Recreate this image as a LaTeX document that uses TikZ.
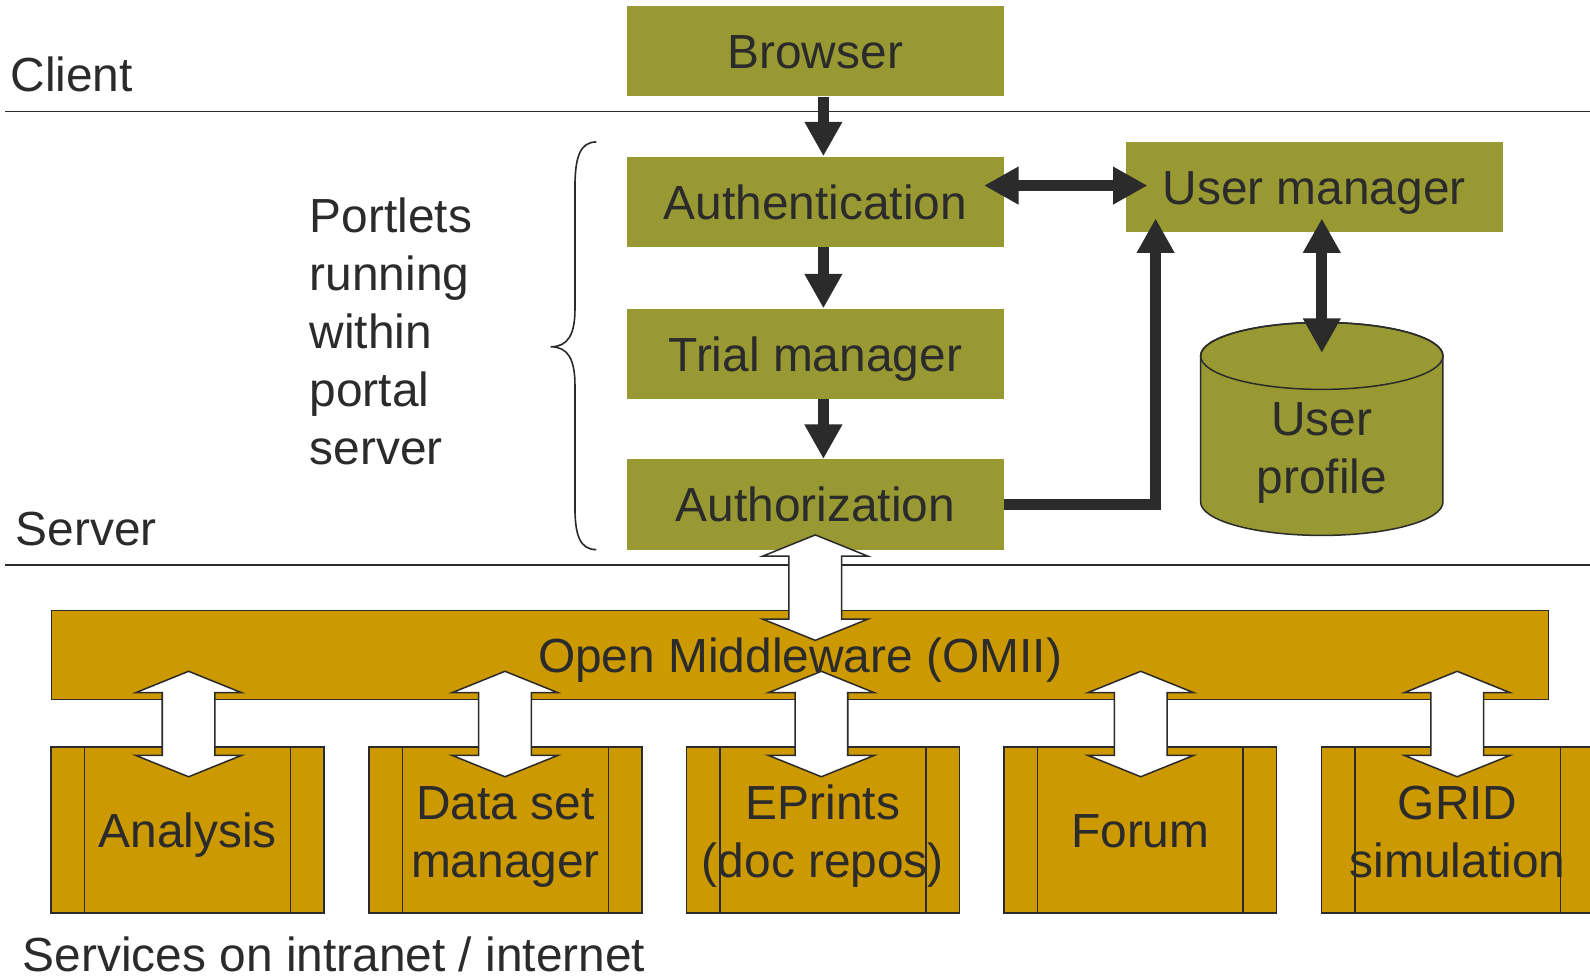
\documentclass[tikz,border=0pt]{standalone}
\usepackage{fontspec}
\setmainfont{Liberation Sans}
\usetikzlibrary{arrows.meta,calc}
\definecolor{olivebox}{RGB}{153,153,51}
\definecolor{goldbox}{RGB}{204,153,0}
\definecolor{ink}{RGB}{43,43,43}
\newcommand\svcstrut{\rule{0pt}{23pt}}
\newcommand\svcdepth{\rule[-5pt]{0pt}{5pt}}
\begin{document}
\begin{tikzpicture}[x=0.5pt,y=-0.5pt,
  every node/.style={text=ink,font=\fontsize{23.6}{28.5}\selectfont},
  obox/.style={fill=olivebox,minimum width=186pt,minimum height=44.5pt,inner sep=0pt,text height=17pt,text depth=0pt},
  ombox/.style={fill=goldbox,draw=ink,line width=0.75pt,minimum width=738pt,minimum height=44pt,inner sep=0pt},
  svcbox/.style={fill=goldbox,draw=ink,line width=0.75pt,minimum width=134.5pt,minimum height=82pt,inner sep=0pt,
    path picture={\draw[ink,line width=0.75pt]
      ([xshift=16.5pt]path picture bounding box.north west) -- ([xshift=16.5pt]path picture bounding box.south west)
      ([xshift=-16.5pt]path picture bounding box.north east) -- ([xshift=-16.5pt]path picture bounding box.south east);}},
  svcone/.style={svcbox,text height=17pt,text depth=0pt},
  svctwo/.style={svcbox,align=center},
  lbl/.style={inner sep=0pt,anchor=base west},
  sep/.style={draw=ink,line width=0.75pt},
  blk/.style={draw=ink,line width=5.4pt,-{Triangle[width=17.5pt,length=17pt]}},
  blkd/.style={draw=ink,line width=5.4pt,{Triangle[width=17.5pt,length=17pt]}-{Triangle[width=17.5pt,length=17pt]}},
  wdarrow/.pic={\filldraw[fill=white,draw=ink,line width=0.75pt]
    (0,-52) -- (52,-31) -- (26,-31) -- (26,31) -- (52,31) -- (0,52) -- (-52,31) -- (-26,31) -- (-26,-31) -- (-52,-31) -- cycle;}
]
\path[fill=white] (0,0) rectangle (1568,964);
\useasboundingbox (0,0) rectangle (1568,964);

% separator lines
\coordinate (cl1) at (5,110);
\coordinate (cl2) at (1568,110);
\coordinate (sl1) at (5,557);
\coordinate (sl2) at (1568,557);
\draw[sep] (cl1) -- (cl2);
\draw[sep] (sl1) -- (sl2);

% labels
\node[lbl] (client) at (10,90) {Client};
\node[lbl] (server) at (15,538) {Server};
\node[lbl] (services) at (22,958) {Services on intranet / internet};
\node[inner sep=0pt,anchor=north west,align=left] (portlets) at (305,195)
  {Portlets\\running\\within\\portal\\server};

% brace
\draw[ink,line width=0.8pt] (588,140) .. controls (572,140) and (567,155) .. (567,185)
  -- (567,305) .. controls (567,330) and (560,342) .. (543,342)
  .. controls (560,342) and (567,354) .. (567,380)
  -- (567,500) .. controls (567,528) and (572,542) .. (588,542);

% olive boxes
\node[obox] (browser) at (804,50.5) {Browser};
\node[obox] (auth) at (804,199) {Authentication};
\node[obox] (trial) at (804,349) {Trial manager};
\node[obox] (authz) at (804,497.5) {Authorization};
\node[obox] (um) at (1296,184.5) {User manager};

% cylinder
\path[fill=olivebox,draw=ink,line width=0.75pt] (1184,351) -- (1184,495)
  arc[start angle=180,end angle=360,x radius=59.75pt,y radius=16.5pt]
  -- (1423,351)
  arc[start angle=0,end angle=180,x radius=59.75pt,y radius=16.5pt] -- cycle;
\draw[ink,line width=0.75pt] (1303.5,351) ellipse[x radius=59.75pt,y radius=16.5pt];
\node[align=center,inner sep=0pt] (profile) at (1303.5,447) {User\\profile};
\coordinate (cyltop) at (1303.5,348);

% black arrows
\draw[blk] ($(browser.south)+(8,0)$) -- ($(auth.north)+(8,0)$);
\draw[blk] ($(auth.south)+(8,0)$) -- ($(trial.north)+(8,0)$);
\draw[blk] ($(trial.south)+(8,0)$) -- ($(authz.north)+(8,0)$);
\draw[blkd] ($(auth.east)+(-20,-16)$) -- ($(um.west)+(22,-1.5)$);
\draw[blk] (authz.east) -| ($(um.south west)+(30,-14)$);
\draw[blkd] ($(um.south)+(7.5,-14)$) -- (cyltop);

% middleware and services
\node[ombox] (omii) at (789,646) {};
\node[svcone] (analysis) at (185,818.5) {Analysis};
\node[svctwo] (dataset) at (498.5,818.5) {\svcstrut Data set\\manager};
\node[svctwo] (eprints) at (811.5,818.5) {\svcstrut EPrints\\(doc repos)};
\node[svcone] (forum) at (1124.5,818.5) {Forum};
\node[svctwo] (grid) at (1437.5,818.5) {\svcstrut GRID\\simulation\svcdepth};

% white double arrows
\pic at (804,579.5) {wdarrow};
\pic at (186,714) {wdarrow};
\pic at (498,714) {wdarrow};
\pic at (810,714) {wdarrow};
\pic at (1125,714) {wdarrow};
\pic at (1437,714) {wdarrow};

\node[text height=17pt,text depth=0pt,inner sep=0pt] (omiitext) at (omii.center) {Open Middleware (OMII)};
\end{tikzpicture}
\end{document}
